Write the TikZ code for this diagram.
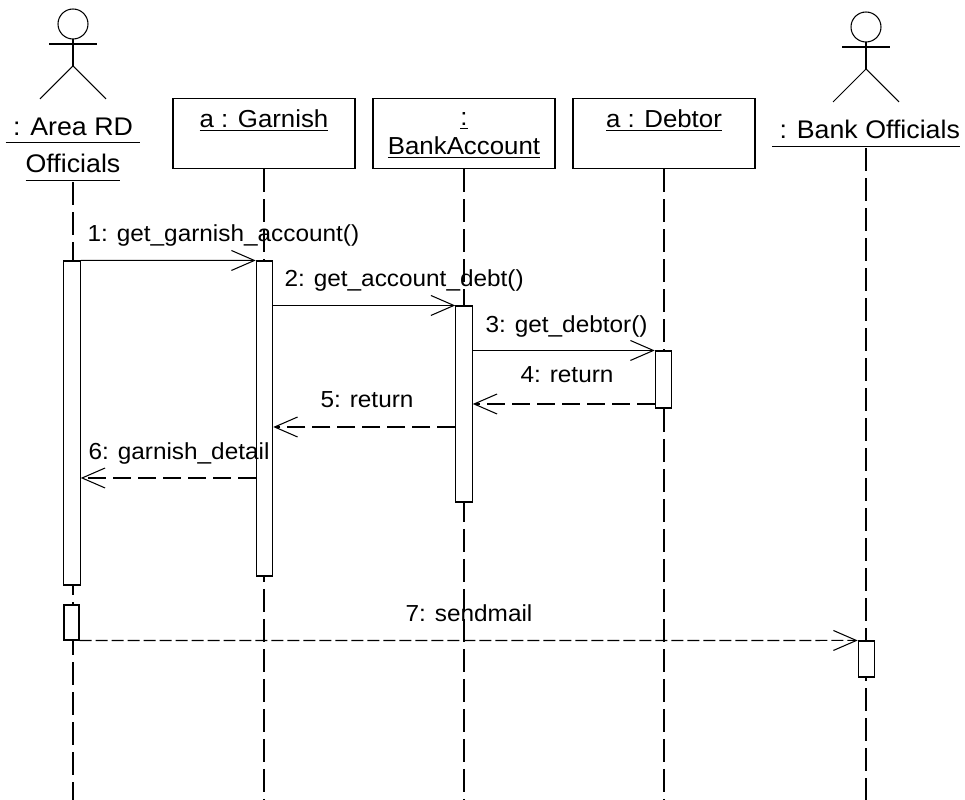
\documentclass[tikz,border=0pt]{standalone}
\usepackage{fontspec}
\setmainfont{Liberation Sans}[FakeStretch=1.05]
\usetikzlibrary{arrows.meta,fit}

\newcommand{\objname}[1]{\underline{#1}}
\newcommand{\actname}[1]{\underline{#1\vphantom{g}}}

\begin{document}
\begin{tikzpicture}[
    x=0.02cm, y=-0.02cm,
    line width=0.6pt,
    font=\fontsize{13.2}{16}\selectfont,
    objbox/.style={
        rectangle,
        draw,
        fill=white,
        minimum width=3.64cm,
        minimum height=1.4cm,
        align=center,
        font=\fontsize{14}{16.5}\selectfont,
        anchor=north
    },
    actorname/.style={
        align=center,
        inner sep=0pt,
        font=\fontsize{14.5}{21.6}\selectfont,
        anchor=north
    },
    lifeline/.style={dash pattern=on 0.46cm off 0.14cm},
    actbar/.style={
        rectangle,
        draw,
        fill=white,
        minimum width=0.33cm,
        inner sep=0pt
    },
    call/.style={-{Straight Barb[length=0.46cm,width=0.4cm]}},
    reply/.style={call, dash pattern=on 0.36cm off 0.14cm},
    mail/.style={call, dash pattern=on 0.24cm off 0.08cm},
    msg/.style={anchor=base west, inner sep=0pt},
    stickman/.pic={
        \draw (0,0) circle[radius=0.3cm];
        \draw (-24,20) -- (24,20);
        \draw (0,15) -- (0,42);
        \draw (-33,75) -- (0,42) -- (33,75);
    }
]

\useasboundingbox (0,0) rectangle (965,800);
\coordinate (bottom) at (0,800);

% Actors
\pic at (73,24) {stickman};
\pic at (866,27) {stickman};
\node[actorname] (area) at (73,117) {\actname{\ : Area RD\ }\\\actname{Officials}};
\node[actorname] (bankoff) at (866,120) {\actname{\ : Bank Officials}};

% Objects
\node[objbox] (garnish) at (264,98) {\objname{a : Garnish}\\\mbox{}};
\node[objbox] (bankacc) at (464,98) {\objname{:\vphantom{A}}\\\objname{BankAccount}};
\node[objbox] (debtor) at (664,98) {\objname{a : Debtor}\\\mbox{}};

% Lifelines
\draw[lifeline] (area.south) -- (area.south |- bottom);
\draw[lifeline] (garnish.south) -- (garnish.south |- bottom);
\draw[lifeline] (bankacc.south) -- (bankacc.south |- bottom);
\draw[lifeline] (debtor.south) -- (debtor.south |- bottom);
\draw[lifeline] (bankoff.south) -- (bankoff.south |- bottom);

% Activations
\node[actbar, fit={(72,261) (72,585)}] (areabar) {};
\node[actbar, fit={(71.5,605) (71.5,640)}, minimum width=0.3cm] (areabar2) {};
\node[actbar, fit={(264.5,261) (264.5,576)}] (garnishbar) {};
\node[actbar, fit={(464,306) (464,502)}] (bankbar) {};
\node[actbar, fit={(663.5,351) (663.5,408)}] (debtorbar) {};
\node[actbar, fit={(866.5,641) (866.5,677)}] (bankoffbar) {};

% Messages
\coordinate (r4) at (0,404);
\coordinate (r5) at (0,427);
\coordinate (r6) at (0,478);

\draw[call] (areabar.north east) -- (garnishbar.north west);
\node[msg] (m1) at (87,242) {1: get\_garnish\_account()};

\draw[call] (garnishbar.east |- bankbar.north) -- (bankbar.north west);
\node[msg] (m2) at (284,287) {2: get\_account\_debt()};

\draw[call] (bankbar.east |- debtorbar.north) -- (debtorbar.north west);
\node[msg] (m3) at (485,333) {3: get\_debtor()};

\draw[reply] (debtorbar.west |- r4) -- (bankbar.east |- r4);
\node[msg] (m4) at (520,383) {4: return};

\draw[reply] (bankbar.west |- r5) -- (garnishbar.east |- r5);
\node[msg] (m5) at (320,408) {5: return};

\draw[reply] (garnishbar.west |- r6) -- (areabar.east |- r6);
\node[msg] (m6) at (88,460) {6: garnish\_detail};

\draw[mail] (areabar2.south east) -- (bankoffbar.north west);
\node[msg, anchor=base] (m7) at (469,622) {7: sendmail};

\end{tikzpicture}
\end{document}
